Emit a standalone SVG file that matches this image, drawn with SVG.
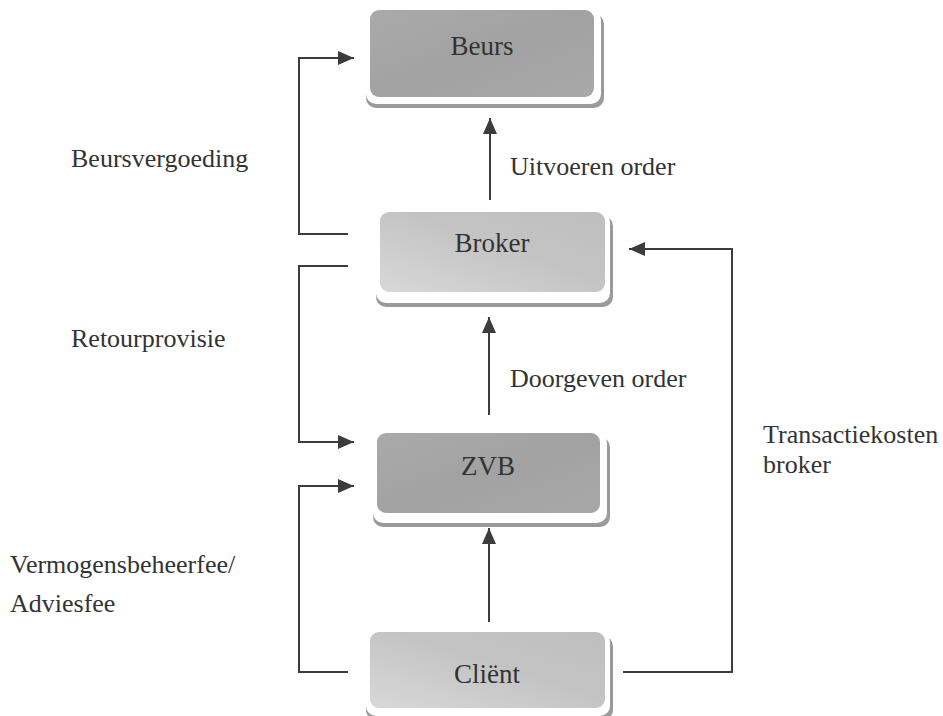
<svg xmlns="http://www.w3.org/2000/svg" width="943" height="716" viewBox="0 0 943 716">
  <style>
    .lbl { font-size: 26px; fill: #333; }
    .node-text { font-size: 27px; fill: #333; text-anchor: middle; }
    .edge { fill: none; stroke: #3c3c3c; stroke-width: 2; }
    .shadow { fill: #9a9a9a; }
    .rim { fill: #ffffff; }
  </style>
  <defs>
    <linearGradient id="gDark" x1="0" y1="0" x2="1" y2="1">
      <stop offset="0" stop-color="#aaaaaa"/>
      <stop offset="0.5" stop-color="#a2a2a2"/>
      <stop offset="1" stop-color="#a8a8a8"/>
    </linearGradient>
    <linearGradient id="gLight" x1="0" y1="1" x2="1" y2="0">
      <stop offset="0" stop-color="#d8d8d8"/>
      <stop offset="0.55" stop-color="#c4c4c4"/>
      <stop offset="1" stop-color="#bebebe"/>
    </linearGradient>
    <marker id="arrow" viewBox="0 0 16 14" refX="16" refY="7" markerWidth="16" markerHeight="14" markerUnits="userSpaceOnUse" orient="auto">
      <path d="M0,0 L16,7 L0,14 Z" fill="#3c3c3c"/>
    </marker>
  </defs>

  <rect width="943" height="716" fill="#ffffff"/>

  <g font-family="'Liberation Serif', Tinos, 'Times New Roman', 'DejaVu Serif', serif">
    <!-- nodes -->
    <g id="beurs">
      <rect class="shadow" x="366" y="14" width="238" height="94" rx="10"/>
      <rect class="rim" x="366" y="10" width="235" height="94" rx="10"/>
      <rect x="370" y="10" width="224" height="87" rx="9" fill="url(#gDark)"/>
      <text class="node-text" x="482" y="55">Beurs</text>
    </g>

    <g id="broker">
      <rect class="shadow" x="376" y="216" width="237" height="91" rx="10"/>
      <rect class="rim" x="376" y="212" width="234" height="91" rx="10"/>
      <rect x="380" y="212" width="225" height="80" rx="9" fill="url(#gLight)"/>
      <text class="node-text" x="492" y="252">Broker</text>
    </g>

    <g id="zvb">
      <rect class="shadow" x="373" y="437" width="237" height="90" rx="10"/>
      <rect class="rim" x="373" y="433" width="234" height="90" rx="10"/>
      <rect x="377" y="433" width="223" height="80" rx="9" fill="url(#gDark)"/>
      <text class="node-text" x="488" y="475" font-size="30">ZVB</text>
    </g>

    <g id="client">
      <rect class="shadow" x="366" y="636" width="247" height="84" rx="10"/>
      <rect class="rim" x="366" y="632" width="244" height="84" rx="10"/>
      <rect x="370" y="632" width="235" height="76" rx="9" fill="url(#gLight)"/>
      <text class="node-text" x="487" y="683">Cliënt</text>
    </g>

    <!-- connectors -->
    <g id="connectors">
      <path class="edge" d="M348,234 H299 V58 H354" marker-end="url(#arrow)"/>
      <path class="edge" d="M348,266 H299 V442 H354" marker-end="url(#arrow)"/>
      <path class="edge" d="M348,672 H299 V486 H354" marker-end="url(#arrow)"/>
      <path class="edge" d="M623,672 H732 V249 H629" marker-end="url(#arrow)"/>
      <path class="edge" d="M490,200 V118" marker-end="url(#arrow)"/>
      <path class="edge" d="M489,415 V317" marker-end="url(#arrow)"/>
      <path class="edge" d="M489,622 V528" marker-end="url(#arrow)"/>
    </g>

    <!-- labels -->
    <g id="labels">
      <text class="lbl" x="71" y="167">Beursvergoeding</text>
      <text class="lbl" x="71" y="347">Retourprovisie</text>
      <text class="lbl" x="10" y="573">Vermogensbeheerfee/</text>
      <text class="lbl" x="10" y="612">Adviesfee</text>
      <text class="lbl" x="510" y="175">Uitvoeren order</text>
      <text class="lbl" x="510" y="387">Doorgeven order</text>
      <text class="lbl" x="763" y="443">Transactiekosten</text>
      <text class="lbl" x="763" y="473">broker</text>
    </g>
  </g>
</svg>
